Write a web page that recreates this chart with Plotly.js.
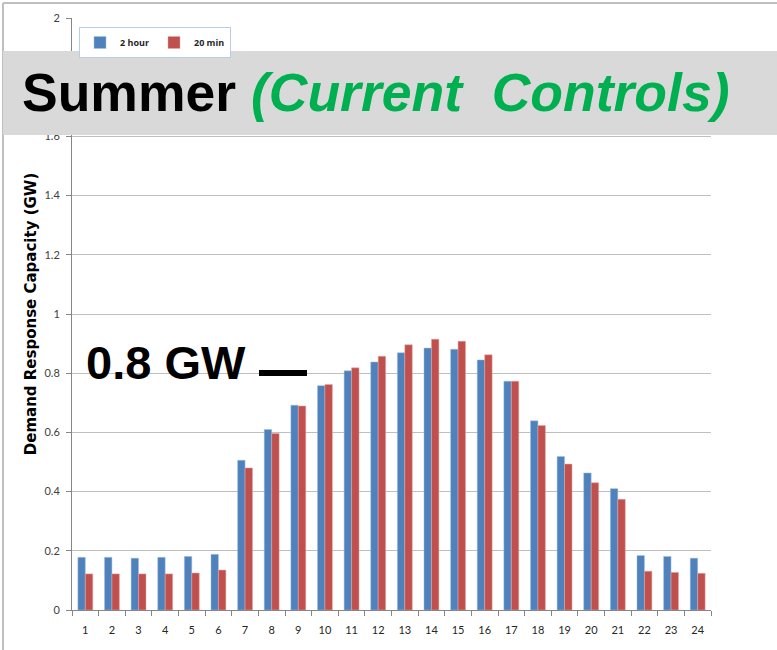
<!DOCTYPE html>
<html>
<head>
<meta charset="utf-8">
<script src="https://cdn.plot.ly/plotly-3.0.1.min.js"></script>
<style>
html,body{margin:0;padding:0;background:#fff;}
#chart{width:777px;height:650px;}
</style>
</head>
<body>
<div id="chart"></div>
<script>
var hours = ["1","2","3","4","5","6","7","8","9","10","11","12","13","14","15","16","17","18","19","20","21","22","23","24"];
var twoHour = [0.178,0.178,0.175,0.178,0.181,0.188,0.506,0.610,0.692,0.758,0.808,0.838,0.869,0.885,0.881,0.845,0.773,0.639,0.519,0.463,0.410,0.184,0.181,0.175];
var twentyMin = [0.122,0.122,0.122,0.122,0.125,0.135,0.480,0.596,0.689,0.762,0.818,0.857,0.896,0.915,0.908,0.862,0.773,0.623,0.493,0.430,0.374,0.131,0.127,0.124];
var seriesNames = ["2 hour","20 min"];
var yTicks = [0,0.2,0.4,0.6,0.8,1,1.2,1.4,1.6,2];
var yTickText = ["0","0.2","0.4","0.6","0.8","1","1.2","1.4","1.6","2"];
var yGrid = [1.8];

// plot area geometry helpers (pixels -> paper)
var L = 72, R = 711, T = 18, B = 610;
function px(x){ return (x - L) / (R - L); }
function py(y){ return (B - y) / (B - T); }

var traces = [
  {type:'bar', name:seriesNames[0], x:hours, y:twoHour, marker:{color:'#4F81BD', line:{color:'#A7C0DE', width:0.5}}},
  {type:'bar', name:seriesNames[1], x:hours, y:twentyMin, marker:{color:'#C0504D', line:{color:'#E3A9A7', width:0.5}}}
];

var layout = {
  width:777, height:650,
  margin:{l:L, r:777-R, t:T, b:650-B, pad:0},
  paper_bgcolor:'#ffffff', plot_bgcolor:'#ffffff',
  barmode:'group', bargap:0.44, bargroupgap:0,
  font:{family:'Lato, "Open Sans", sans-serif', color:'#262626', size:11},
  showlegend:true,
  legend:{orientation:'h', x:px(79), y:py(27), xanchor:'left', yanchor:'top',
          bgcolor:'#ffffff', bordercolor:'#B9CDE5', borderwidth:1,
          font:{family:'"Open Sans", sans-serif', size:9, color:'#262626', weight:'bold'},
          itemwidth:30, tracegroupgap:0},
  xaxis:{type:'category', showline:true, linecolor:'#868686', linewidth:1,
         ticks:'outside', ticklen:5, tickcolor:'#868686', tickson:'boundaries',
         showgrid:false, tickfont:{size:11, color:'#262626'}, ticklabelstandoff:10, fixedrange:true},
  yaxis:{range:[0,2], tickvals:yTicks, ticktext:yTickText, showline:true, linecolor:'#868686', linewidth:1,
         ticks:'outside', ticklen:5, tickcolor:'#868686', showgrid:true, gridcolor:'#BFBFBF', gridwidth:1,
         zeroline:false, tickfont:{size:11, color:'#404040'}, ticklabelstandoff:4,
         title:{text:'<b>Demand Response Capacity (GW)</b>', font:{family:'"DejaVu Sans", sans-serif', size:15, color:'#000'}, standoff:4}},
  shapes:[
    {type:'line', xref:'paper', yref:'y', x0:0, x1:1, y0:yGrid[0], y1:yGrid[0], line:{color:'#BFBFBF', width:1}, layer:'below'},
    {type:'line', xref:'paper', yref:'paper', x0:px(3), x1:px(777), y0:py(3), y1:py(3), line:{color:'#BFBFBF', width:2}},
    {type:'line', xref:'paper', yref:'paper', x0:px(3), x1:px(3), y0:py(3), y1:py(650), line:{color:'#BFBFBF', width:2}},
    {type:'rect', xref:'paper', yref:'paper', x0:px(3), x1:px(777), y0:py(51), y1:py(135), fillcolor:'#D9D9D9', line:{width:0}, layer:'above'},
    {type:'line', xref:'paper', yref:'paper', x0:px(259), x1:px(307), y0:py(373), y1:py(373), line:{color:'#000000', width:6}, layer:'above'}
  ],
  annotations:[
    {xref:'paper', yref:'paper', x:px(20), y:py(92), xanchor:'left', yanchor:'middle', showarrow:false,
     text:'<b>Summer <i><span style="color:#00B050">(Current&nbsp; Controls)</span></i></b>',
     font:{family:'"Liberation Sans", Arial, sans-serif', size:53.5, color:'#000000'}},
    {xref:'paper', yref:'paper', x:px(84), y:py(362), xanchor:'left', yanchor:'middle', showarrow:false,
     text:'<b>0.8 GW</b>',
     font:{family:'"Liberation Sans", Arial, sans-serif', size:47, color:'#000000'}}
  ]
};

Plotly.newPlot('chart', traces, layout, {displayModeBar:false, staticPlot:true});
</script>
</body>
</html>
